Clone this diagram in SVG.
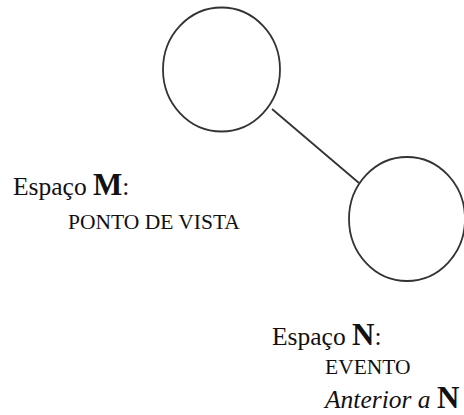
<svg xmlns="http://www.w3.org/2000/svg" width="464" height="415" viewBox="0 0 464 415">
<style>
.node{fill:none;stroke:#333;stroke-width:1.8}
.edge{stroke:#333;stroke-width:1.8;fill:none}
text{font-family:"Liberation Serif","Times New Roman",serif;fill:#111}
.big{font-size:25.5px}
.small{font-size:21.5px}
.b{font-weight:bold;font-size:31px}
.it{font-style:italic;font-size:25.5px}
</style>
<rect width="464" height="415" fill="#fff"/>
<g id="connectors">
<line class="edge" x1="272" y1="109" x2="359" y2="183"/>
</g>
<g id="spaceM">
<ellipse class="node" cx="221.5" cy="69.5" rx="58.5" ry="62"/>
<text class="big" x="13" y="195">Espaço <tspan class="b">M</tspan>:</text>
<text class="small" x="68" y="229">PONTO DE VISTA</text>
</g>
<g id="spaceN">
<ellipse class="node" cx="407" cy="219" rx="58" ry="62"/>
<text class="big" x="272" y="345">Espaço <tspan class="b">N</tspan>:</text>
<text class="small" x="325" y="374">EVENTO</text>
<text x="325" y="408"><tspan class="it">Anterior a </tspan><tspan class="b">N</tspan></text>
</g>
</svg>
